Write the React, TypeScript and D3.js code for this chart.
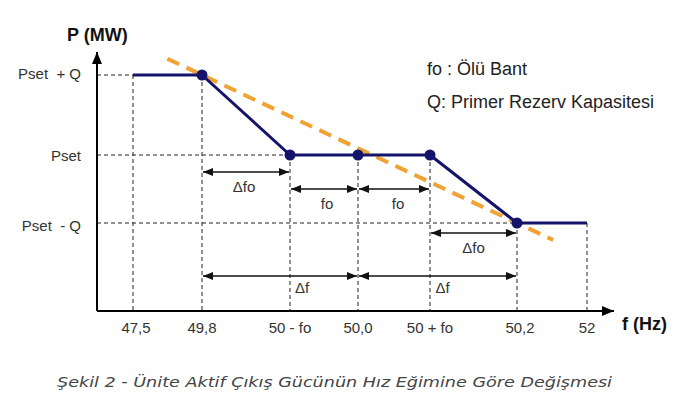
import React from "react";
import * as d3 from "d3";

// ---- data ----
const freqTicks = [47.5, 49.8, 49.95, 50.0, 50.05, 50.2, 52];
const tickLabels = ["47,5", "49,8", "50 - fo", "50,0", "50 + fo", "50,2", "52"];
const powerLevels = [-1, 0, 1];
const powerLabels = ["Pset  - Q", "Pset", "Pset  + Q"];
const gridTop = [1, 1, 0, 0, 0, -1, -1];
const responseF = [47.5, 49.8, 49.95, 50.05, 50.2, 52];
const responseP = [1, 1, 0, 0, -1, -1];
const dotF = [49.8, 49.95, 50.0, 50.05, 50.2];
const dotP = [1, 0, 0, 0, -1];
const droopF = [49.8, 50.2];
const droopP = [1, -1];
const dimFrom = [49.8, 49.95, 50.0, 50.05, 49.8, 50.0];
const dimTo = [49.95, 50.0, 50.05, 50.2, 50.0, 50.2];
const dimLabels = ["\u0394fo", "fo", "fo", "\u0394fo", "\u0394f", "\u0394f"];
const legendLines = ["fo : \u00d6l\u00fc Bant", "Q: Primer Rezerv Kapasitesi"];
const caption = "\u015eekil 2 - \u00dcnite Aktif \u00c7\u0131k\u0131\u015f G\u00fcc\u00fcn\u00fcn H\u0131z E\u011fimine G\u00f6re De\u011fi\u015fmesi";

// ---- layout ----
const W = 692, H = 407;
const AX = 97, AY = 311;
const dimRowY = [172, 189, 189, 233, 276, 276];
const dimLabelDy = [16, 16, 16, 16, 13, 13];
const dimLabelDx = [-2, 3, 4, 0, 22, 5];
const font = "'Liberation Sans', Arial, sans-serif";

export default function App() {
  const x = d3.scaleLinear().domain(freqTicks).range([133, 202, 290, 358, 430, 517, 587]);
  const y = d3.scaleLinear().domain(powerLevels).range([223, 155, 75]);
  const line = d3.line<[number, number]>().x(d => x(d[0])).y(d => y(d[1]));
  const resp: [number, number][] = responseF.map((f, i) => [f, responseP[i]]);

  const p1 = [x(droopF[0]), y(droopP[0])];
  const p2 = [x(droopF[1]), y(droopP[1])];
  const ext = (t: number) => [p1[0] + (p2[0] - p1[0]) * t, p1[1] + (p2[1] - p1[1]) * t];
  const d0 = ext(-0.11), d1 = ext(1.115);

  const grid = "#222";
  const navy = "#14146b";
  const orange = "#f0a232";

  return (
    <svg width={W} height={H} style={{ position: "absolute", left: 0, top: 0, background: "#fff" }}>
      <defs>
        <marker id="dimArrow" viewBox="0 0 10 8" refX="10" refY="4" markerWidth="10" markerHeight="8"
          markerUnits="userSpaceOnUse" orient="auto-start-reverse">
          <path d="M0,0 L10,4 L0,8 z" fill="#111" />
        </marker>
        <marker id="axArrow" viewBox="0 0 12 10" refX="12" refY="5" markerWidth="12" markerHeight="10"
          markerUnits="userSpaceOnUse" orient="auto">
          <path d="M0,0 L12,5 L0,10 z" fill="#000" />
        </marker>
      </defs>

      {/* vertical dashed guides */}
      {freqTicks.map((f, i) => (
        <line key={"v" + i} x1={x(f)} x2={x(f)} y1={y(gridTop[i])} y2={AY}
          stroke={grid} strokeWidth={1} strokeDasharray="4,3" />
      ))}
      {/* horizontal dashed guides */}
      {[[1, 47.5], [0, 49.95], [-1, 50.2]].map(([p, f], i) => (
        <line key={"h" + i} x1={AX} x2={x(f)} y1={y(p)} y2={y(p)}
          stroke={grid} strokeWidth={1} strokeDasharray="4,3" />
      ))}

      {/* axes */}
      <line x1={AX} x2={AX} y1={AY} y2={52} stroke="#000" strokeWidth={2} markerEnd="url(#axArrow)" />
      <line x1={AX} x2={614} y1={AY} y2={AY} stroke="#000" strokeWidth={2} markerEnd="url(#axArrow)" />

      {/* dimension arrows */}
      {dimFrom.map((f, i) => {
        const xa = x(f), xb = x(dimTo[i]);
        return (
          <g key={"d" + i}>
            <line x1={xa + 1} x2={xb - 1} y1={dimRowY[i]} y2={dimRowY[i]} stroke="#111" strokeWidth={1.5}
              markerStart="url(#dimArrow)" markerEnd="url(#dimArrow)" />
            <text x={(xa + xb) / 2 + dimLabelDx[i]} y={dimRowY[i] + dimLabelDy[i]} textAnchor="middle"
              dominantBaseline="middle" fontFamily={font} fontSize={15} fill="#333">{dimLabels[i]}</text>
          </g>
        );
      })}

      {/* droop line */}
      <line x1={d0[0]} y1={d0[1]} x2={d1[0]} y2={d1[1]} stroke={orange} strokeWidth={4}
        strokeDasharray="13,8" />

      {/* response curve */}
      <path d={line(resp) || ""} fill="none" stroke={navy} strokeWidth={3} strokeLinejoin="round" />
      {dotF.map((f, i) => (
        <circle key={"c" + i} cx={x(f)} cy={y(dotP[i])} r={5.5} fill={navy} />
      ))}

      {/* x tick labels */}
      {freqTicks.map((f, i) => (
        <text key={"t" + i} x={x(f) + (i === 0 ? 3 : i === 5 ? 3 : 0)} y={329} textAnchor="middle"
          dominantBaseline="middle" fontFamily={font} fontSize={15} fill="#333">{tickLabels[i]}</text>
      ))}
      {/* y labels */}
      {powerLevels.map((p, i) => (
        <text key={"p" + i} x={81} y={y(p) + (i === 0 ? 4 : i === 1 ? 2 : 0)} textAnchor="end"
          dominantBaseline="middle" fontFamily={font} fontSize={15} fill="#333"
          style={{ whiteSpace: "pre" }}>{powerLabels[i]}</text>
      ))}

      {/* axis titles */}
      <text x={67} y={36} dominantBaseline="middle" fontFamily={font} fontSize={18} fontWeight="bold" fill="#111">P (MW)</text>
      <text x={622} y={325} dominantBaseline="middle" fontFamily={font} fontSize={18} fontWeight="bold" fill="#111">f (Hz)</text>

      {/* legend notes */}
      {legendLines.map((t, i) => (
        <text key={"l" + i} x={427} y={70 + i * 33} dominantBaseline="middle" fontFamily={font}
          fontSize={18} fill="#222" style={{ whiteSpace: "pre" }}>{t}</text>
      ))}

      {/* caption */}
      <text x={57} y={383} dominantBaseline="middle" fontFamily="'DejaVu Sans', Verdana, sans-serif"
        fontStyle="italic" fontSize={14.5} fill="#444" textLength={555} lengthAdjust="spacingAndGlyphs">{caption}</text>
    </svg>
  );
}
